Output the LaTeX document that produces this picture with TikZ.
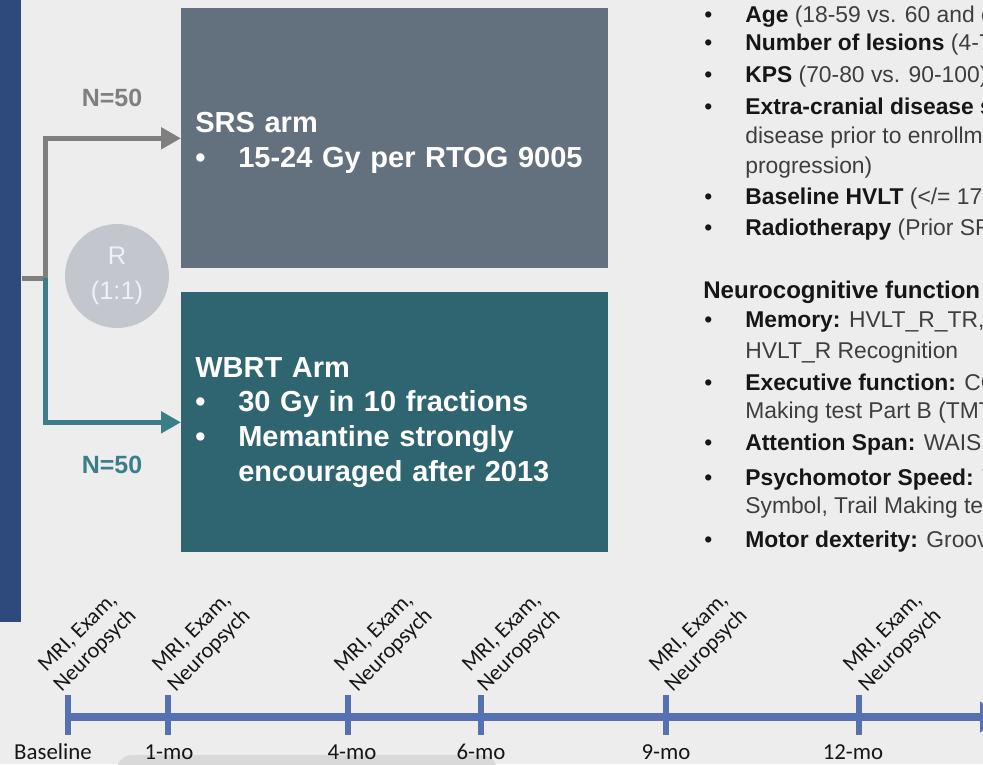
\documentclass[tikz,border=0pt]{standalone}
\usepackage{fontspec}
\setmainfont{Liberation Sans}
\newfontfamily\calibfont{Carlito}
\usetikzlibrary{arrows.meta,positioning,calc}

\definecolor{bgGray}{HTML}{EDEDEE}
\definecolor{panelBlue}{HTML}{2E4A7D}
\definecolor{srsGray}{HTML}{63717F}
\definecolor{wbrtTeal}{HTML}{2F6570}
\definecolor{lineGray}{HTML}{7F7F7F}
\definecolor{lineTeal}{HTML}{3B7E8A}
\definecolor{randGray}{HTML}{C3C6CC}
\definecolor{randText}{HTML}{EEF0F3}
\definecolor{tlBlue}{HTML}{5571B2}
\definecolor{txtDark}{HTML}{161616}
\definecolor{txtMid}{HTML}{3E3E3E}
\definecolor{shadeGray}{HTML}{D9D9DA}

\newcommand{\hd}[1]{{\bfseries\color{txtDark}#1}}

\begin{document}
\begin{tikzpicture}[x=0.02cm, y=-0.02cm,
  armbox/.style={anchor=north west, inner xsep=0.28cm, inner ysep=0pt,
    text width=7.98cm, minimum height=5.2cm, align=left, text=white,
    font=\fontsize{16.5}{19.8}\selectfont\bfseries},
  nlabel/.style={font=\fontsize{14.2}{17}\selectfont\bfseries},
  flow/.style={line width=0.1cm, -{Triangle[length=0.4cm, width=0.42cm]}},
  coltext/.style={anchor=base west, inner sep=0pt, text=txtMid,
    font=\fontsize{13}{15.6}\selectfont},
  bulletmark/.style={coltext, text=txtDark},
  tline/.style={tlBlue, line width=0.16cm, -{Triangle[length=0.4cm, width=0.6cm]}},
  tickmark/.style={tlBlue, line width=0.12cm},
  visit/.style={rotate=45, align=center, inner sep=0pt, text=txtDark,
    font=\calibfont\fontsize{12.6}{14}\selectfont},
  month/.style={anchor=base, inner sep=0pt, text=txtDark,
    font=\calibfont\fontsize{13}{15}\selectfont}
]
\useasboundingbox (0,0) rectangle (983,764);
\clip (0,0) rectangle (983,764);
\fill[bgGray] (0,0) rectangle (983,764);

% left panel and the two arms
\node[fill=panelBlue, anchor=north west, minimum width=0.42cm,
  minimum height=12.44cm, inner sep=0pt] (panel) at (0,0) {};
\node[armbox, fill=srsGray] (srs) at (181,8)
  {\rule{0pt}{17pt}SRS arm\\\makebox[0.86cm][l]{\textbullet}15-24 Gy per RTOG 9005};
\node[armbox, fill=wbrtTeal] (wbrt) at (181,292)
  {WBRT Arm\\\makebox[0.86cm][l]{\textbullet}30 Gy in 10 fractions\\
   \makebox[0.86cm][l]{\textbullet}Memantine strongly\\
   \hspace*{0.86cm}encouraged after 2013};

\node[circle, fill=randGray, minimum size=2.08cm, inner sep=0pt, align=center,
  text=randText, font=\fontsize{14.5}{19.8}\selectfont] (rand) at (117,276) {R\\(1:1)};
\node[nlabel, text=lineGray] (nTop) at (112,98) {N=50};
\node[nlabel, text=lineTeal] (nBot) at (112,465) {N=50};

\coordinate (split) at (45,278);
\draw[flow, lineGray] (split -| panel.east) -- (split) |- (srs.west);
\draw[flow, lineTeal] (split) |- (wbrt.west);

% stratification and endpoints
\foreach \y [count=\i] in {22,51,82,114,204,235,327,390,450,485,547}
  \node[bulletmark] (b\i) at (704,\y) {\textbullet};
\foreach \y/\txt [count=\i] in {
  22/{\hd{Age} (18-59 vs. 60 and o},
  51/{\hd{Number of lesions} (4-7},
  82/{\hd{KPS} (70-80 vs. 90-100)},
  114/{\hd{Extra-cranial disease s}},
  143/{disease prior to enrollme},
  173/{progression)},
  204/{\hd{Baseline HVLT} (</= 17},
  235/{\hd{Radiotherapy} (Prior SR},
  327/{\hd{Memory:} HVLT\_R\_TR,},
  358/{HVLT\_R Recognition},
  390/{\hd{Executive function:} CO},
  418/{Making test Part B (TMT},
  450/{\hd{Attention Span:} WAIS},
  485/{\hd{Psychomotor Speed:} V},
  513/{Symbol, Trail Making tes},
  547/{\hd{Motor dexterity:} Groove}}
  \node[coltext] (r\i) at (745,\y) {\txt};
\node[coltext, font=\fontsize{13.7}{16}\selectfont] (neuro) at (703,298)
  {\hd{Neurocognitive function}};

% timeline
\fill[shadeGray, rounded corners=0.3cm] (117,755) rectangle (497,800);
\coordinate (tlStart) at (66,717);
\coordinate (tlEnd) at (1000,717);
\draw[tline] (tlStart) -- (tlEnd);
\foreach \tx/\mx/\vx/\lab [count=\i] in {68/53/87/Baseline, 168/169/201/1-mo,
    348/352/383/4-mo, 481/481/511/6-mo, 666/666/698/9-mo, 859/853/892/12-mo} {
  \coordinate (tk\i) at (\tx,717);
  \draw[tickmark] ($(tk\i)+(0,-22)$) -- ($(tk\i)+(0,18)$);
  \node[month] (mo\i) at (\mx,759) {\lab};
  \node[visit] (vis\i) at (\vx,642) {MRI, Exam,\\Neuropsych};
}
\end{tikzpicture}
\end{document}
